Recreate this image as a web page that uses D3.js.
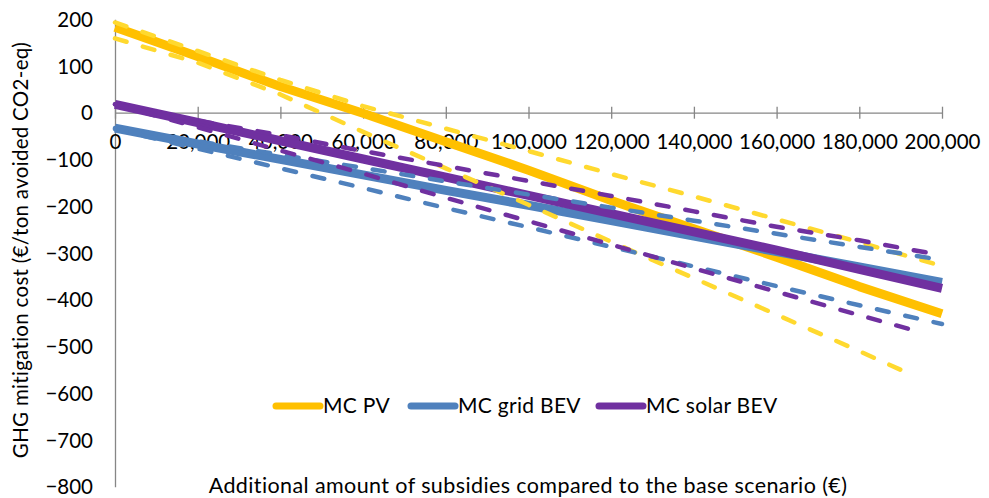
<!DOCTYPE html>
<html>
<head>
<meta charset="utf-8">
<script src="https://cdn.jsdelivr.net/npm/d3@7"></script>
<style>
  body { margin: 0; background: #fff; }
  svg { display: block; font-family: Lato, "Open Sans", sans-serif; }
</style>
</head>
<body>
<div id="chart"></div>
<script>
// subsidies (x) and mitigation cost (y)
var subsidies = [0, 20000, 40000, 60000, 80000, 100000, 120000, 140000, 160000, 180000, 200000];
var subsidiesLowPV = [0, 20000, 40000, 60000, 80000, 100000, 120000, 140000, 160000, 180000, 190000];
var subsidiesLowSolar = [0, 20000, 40000, 60000, 80000, 100000, 120000, 140000, 160000, 180000, 195000];

var mcPV       = [183, 120, 56, -1, -62, -123, -188, -248, -309, -372, -430];
var mcPVHigh   = [193, 132, 70, 14, -34, -82, -131, -179, -228, -277, -328];
var mcPVLow    = [159, 107, 39, -41, -119, -197, -276, -354, -432, -510, -550];

var mcGrid     = [-33, -67, -100, -133, -166, -198, -231, -264, -297, -330, -363];
var mcGridHigh = [-33, -61, -90, -118, -147, -175, -203, -231, -259, -287, -315];
var mcGridLow  = [-35, -77, -119, -161, -204, -245, -287, -329, -371, -412, -452];

var mcSolar     = [18, -21, -60, -99, -138, -177, -216, -255, -294, -335, -376];
var mcSolarHigh = [18, -17, -48, -82, -114, -146, -178, -211, -244, -273, -305];
var mcSolarLow  = [18, -31, -81, -130, -182, -232, -282, -333, -383, -433, -470];

var xTicks = [0, 20000, 40000, 60000, 80000, 100000, 120000, 140000, 160000, 180000, 200000];
var yTicks = [200, 100, 0, -100, -200, -300, -400, -500, -600, -700, -800];

var width = 989, height = 498;
var gold = "#FFC000", yellow = "#FFD92F", blue = "#4F81BD", purple = "#7030A0";

var svg = d3.select("#chart").append("svg")
    .attr("width", width)
    .attr("height", height);

var x = d3.scaleLinear().domain([0, 200000]).range([115, 942]);
var y = d3.scaleLinear().domain([-800, 200]).range([486.7, 19.2]);

// y axis, no ticks
var yAxis = svg.append("g")
    .attr("transform", "translate(115,0)")
    .call(d3.axisLeft(y).tickValues(yTicks).tickSize(0).tickPadding(22).tickFormat(d3.format("d")));
yAxis.select(".domain").attr("stroke", "#868686").attr("stroke-width", 1.3);
yAxis.selectAll("text").attr("font-size", 20.5).attr("fill", "#000")
    .attr("font-family", "Lato, sans-serif").attr("x", -22).attr("text-anchor", "end").attr("dy", "0.35em");

// x axis sits on the zero line, cross ticks
var xAxis = svg.append("g")
    .attr("transform", "translate(0," + y(0) + ")")
    .call(d3.axisBottom(x).tickValues(xTicks).tickSizeInner(5).tickSizeOuter(0).tickFormat(d3.format(",")));
xAxis.select(".domain").attr("stroke", "#868686").attr("stroke-width", 1.3);
xAxis.selectAll(".tick line").attr("y1", -6).attr("y2", 6).attr("stroke", "#868686").attr("stroke-width", 1.3);
xAxis.selectAll("text").attr("font-size", 20.5).attr("fill", "#000")
    .attr("font-family", "Lato, sans-serif").attr("y", 22).attr("dy", "0.71em");

// axis titles
svg.append("text")
    .attr("transform", "translate(28,250) rotate(-90)")
    .attr("text-anchor", "middle")
    .attr("font-size", 20.5)
    .attr("letter-spacing", 0.3)
    .text("GHG mitigation cost (€/ton avoided CO2-eq)");

svg.append("text")
    .attr("x", 528)
    .attr("y", 493)
    .attr("text-anchor", "middle")
    .attr("font-size", 21.5)
    .attr("letter-spacing", 0.4)
    .text("Additional amount of subsidies compared to the base scenario (€)");

var line = d3.line()
    .x(function(d) { return x(d[0]); })
    .y(function(d) { return y(d[1]); });

function pairs(xs, ys) { return xs.map(function(v, i) { return [v, ys[i]]; }); }

var series = [
    {xs: subsidies, ys: mcPV, color: gold, dash: false},
    {xs: subsidies, ys: mcGrid, color: blue, dash: false},
    {xs: subsidies, ys: mcSolar, color: purple, dash: false},
    {xs: subsidies, ys: mcPVHigh, color: yellow, dash: true},
    {xs: subsidiesLowPV, ys: mcPVLow, color: yellow, dash: true},
    {xs: subsidies, ys: mcGridHigh, color: blue, dash: true},
    {xs: subsidies, ys: mcGridLow, color: blue, dash: true},
    {xs: subsidies, ys: mcSolarHigh, color: purple, dash: true},
    {xs: subsidiesLowSolar, ys: mcSolarLow, color: purple, dash: true}
];

svg.append("g").selectAll("path")
    .data(series)
    .join("path")
    .attr("d", function(d) { return line(pairs(d.xs, d.ys)); })
    .attr("fill", "none")
    .attr("stroke", function(d) { return d.color; })
    .attr("stroke-width", function(d) { return d.dash ? 4.5 : 9; })
    .attr("stroke-linecap", function(d) { return d.dash ? "round" : "butt"; })
    .attr("stroke-linejoin", "round")
    .attr("stroke-dasharray", function(d) { return d.dash ? "12 17" : null; });

// legend (solid series only)
var legendItems = [
    {label: "MC PV", color: gold, x: 273},
    {label: "MC grid BEV", color: blue, x: 408},
    {label: "MC solar BEV", color: purple, x: 596}
];

var legend = svg.append("g").selectAll("g")
    .data(legendItems)
    .join("g")
    .attr("transform", function(d) { return "translate(" + d.x + ",406)"; });

legend.append("line")
    .attr("x1", 3).attr("x2", 47)
    .attr("stroke", function(d) { return d.color; })
    .attr("stroke-width", 7)
    .attr("stroke-linecap", "round");

legend.append("text")
    .attr("x", 50)
    .attr("dy", "0.35em")
    .attr("font-size", 21)
    .attr("letter-spacing", 0.3)
    .text(function(d) { return d.label; });
</script>
</body>
</html>
